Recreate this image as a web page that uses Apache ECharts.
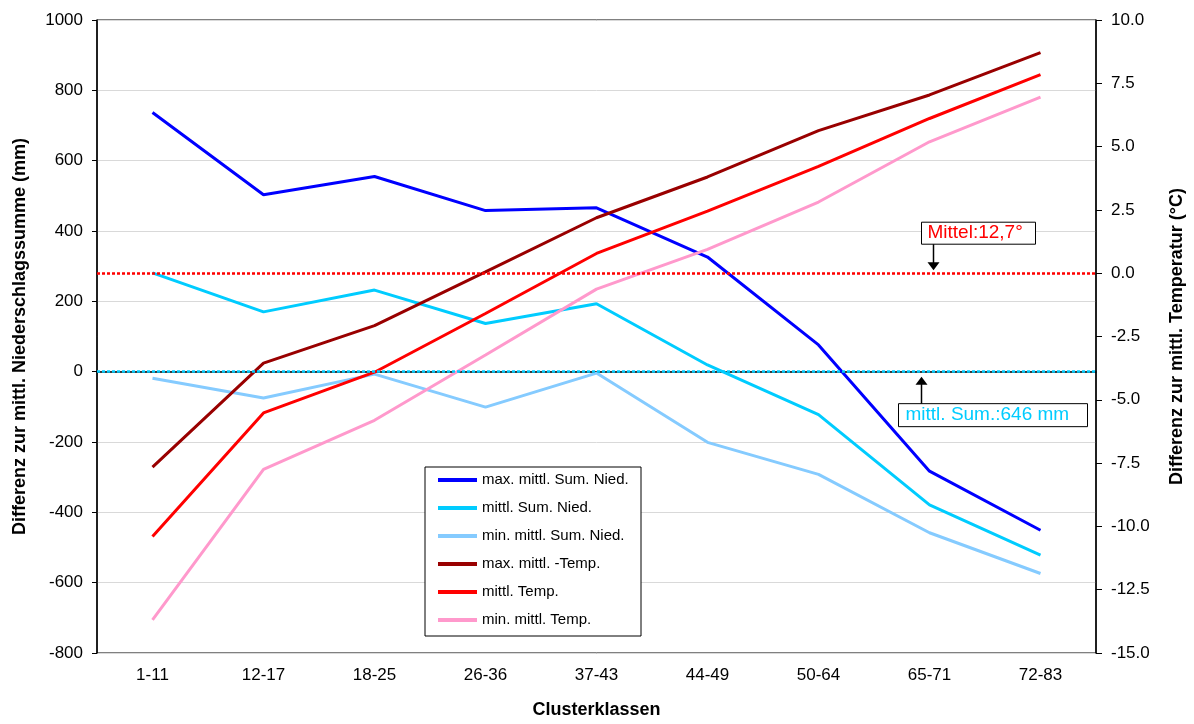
<!DOCTYPE html>
<html><head><meta charset="utf-8">
<script src="https://cdn.jsdelivr.net/npm/echarts@6/dist/echarts.min.js"></script>
<style>html,body{margin:0;padding:0;background:#fff}#c{width:1194px;height:724px}</style>
</head><body><div id="c"></div>
<script>
const categories = ['1-11','12-17','18-25','26-36','37-43','44-49','50-64','65-71','72-83'];
const maxNied   = [737, 503, 555, 458, 466, 326, 76, -283, -451];
const mittlNied = [281, 170, 232, 137, 193, 19, -122, -379, -522];
const minNied   = [-19, -75, -7, -101, -4, -201, -292, -458, -574];
const maxTemp   = [-7.66, -3.55, -2.07, 0.05, 2.19, 3.80, 5.63, 7.04, 8.71];
const mittlTemp = [-10.4, -5.52, -3.91, -1.59, 0.78, 2.45, 4.22, 6.11, 7.84];
const minTemp   = [-13.69, -7.75, -5.81, -3.23, -0.63, 0.94, 2.81, 5.19, 6.95];
const niedMeanLabel = 'mittl. Sum.:646 mm';
const tempMeanLabel = 'Mittel:12,7°';

const FONT = '"Liberation Sans", Arial, sans-serif';
const chart = echarts.init(document.getElementById('c'), null, {renderer:'canvas'});

function line(name, data, color, axis, extra) {
  return Object.assign({
    name, type:'line', data, yAxisIndex: axis, symbol:'none', showSymbol:false,
    lineStyle:{color, width:3}, itemStyle:{color}, animation:false, z:2
  }, extra || {});
}

const option = {
  animation:false,
  backgroundColor:'#fff',
  grid:{left:97, right:97, top:20, bottom:68, show:true, borderColor:'#000', borderWidth:1, backgroundColor:'transparent'},
  legend:{
    orient:'vertical', left:438, top:472.5, padding:0, icon:'rect', itemWidth:39, itemHeight:4, itemGap:13, z:10,
    textStyle:{fontFamily:FONT, fontSize:15, color:'#000'},
    data:['max. mittl. Sum. Nied.','mittl. Sum. Nied.','min. mittl. Sum. Nied.','max. mittl. -Temp.','mittl. Temp.','min. mittl. Temp.']
  },
  xAxis:{
    type:'category', data:categories, boundaryGap:true,
    axisLine:{lineStyle:{color:'#000', width:1.5}},
    axisTick:{length:6, lineStyle:{color:'#000'}},
    axisLabel:{color:'#000', fontSize:17, margin:14, fontFamily:FONT},
    name:'Clusterklassen', nameLocation:'middle', nameGap:48,
    nameTextStyle:{color:'#000', fontSize:18, fontWeight:'bold', fontFamily:FONT}
  },
  yAxis:[{
    type:'value', min:-800, max:1000, interval:200, position:'left',
    axisLine:{show:true, lineStyle:{color:'#000', width:1.5}},
    axisTick:{show:true, length:5, lineStyle:{color:'#000'}},
    axisLabel:{color:'#000', fontSize:17, margin:14, fontFamily:FONT, formatter:v=>String(v)},
    splitLine:{show:true, lineStyle:{color:'#d9d9d9', width:1}},
    name:'Differenz zur mittl. Niederschlagssumme (mm)', nameLocation:'middle', nameGap:68, nameRotate:90,
    nameTextStyle:{color:'#000', fontSize:18, fontWeight:'bold', fontFamily:FONT}
  },{
    type:'value', min:-15, max:10, interval:2.5, position:'right',
    axisLine:{show:true, lineStyle:{color:'#000', width:1.5}},
    axisTick:{show:true, length:6, lineStyle:{color:'#000'}},
    axisLabel:{color:'#000', fontSize:17, margin:15, fontFamily:FONT, formatter:v=>v.toFixed(1)},
    splitLine:{show:false},
    name:'Differenz zur mittl. Temperatur (°C)', nameLocation:'middle', nameGap:72, nameRotate:90,
    nameTextStyle:{color:'#000', fontSize:18, fontWeight:'bold', fontFamily:FONT}
  }],
  series:[
    line('max. mittl. Sum. Nied.', maxNied, '#0000ff', 0),
    line('mittl. Sum. Nied.', mittlNied, '#00ccff', 0, {
      markLine:{silent:true, symbol:'none', label:{show:false}, animation:false,
        lineStyle:{color:'#00ccff', type:[3,2], width:2.5}, data:[{yAxis:0}]}
    }),
    line('min. mittl. Sum. Nied.', minNied, '#85cbff', 0),
    line('max. mittl. -Temp.', maxTemp, '#990000', 1),
    line('mittl. Temp.', mittlTemp, '#ff0000', 1, {
      markLine:{silent:true, symbol:'none', label:{show:false}, animation:false,
        lineStyle:{color:'#ff0000', type:[3,2], width:2.5}, data:[{yAxis:0}]}
    }),
    line('min. mittl. Temp.', minTemp, '#ff99cc', 1)
  ]
};
chart.setOption(option);

const yT0 = chart.convertToPixel({yAxisIndex:1}, 0);
const yP0 = chart.convertToPixel({yAxisIndex:0}, 0);
const xC = chart.convertToPixel({xAxisIndex:0}, categories[7]);
const ax1 = xC + 4, ax2 = xC - 8;

chart.setOption({graphic:[
  {type:'rect', z:3, shape:{x:425, y:467, width:216, height:169}, style:{fill:'#fff', stroke:'#000', lineWidth:1}},
  // temperature mean annotation
  {type:'rect', z:20, shape:{x:xC-8, y:yT0-51, width:114, height:22}, style:{fill:'#fff', stroke:'#000', lineWidth:1}},
  {type:'text', z:21, style:{text:tempMeanLabel, x:xC-2, y:yT0-40, fill:'#ff0000', font:'19px '+FONT, verticalAlign:'middle'}},
  {type:'line', z:20, shape:{x1:ax1, y1:yT0-29, x2:ax1, y2:yT0-10}, style:{stroke:'#000', lineWidth:1.5}},
  {type:'polygon', z:20, shape:{points:[[ax1-6,yT0-11],[ax1+6,yT0-11],[ax1,yT0-3]]}, style:{fill:'#000'}},
  // precipitation mean annotation
  {type:'rect', z:20, shape:{x:xC-31, y:yP0+32, width:189, height:23}, style:{fill:'#fff', stroke:'#000', lineWidth:1}},
  {type:'text', z:21, style:{text:niedMeanLabel, x:xC-24, y:yP0+43.5, fill:'#00ccff', font:'19px '+FONT, verticalAlign:'middle'}},
  {type:'line', z:20, shape:{x1:ax2, y1:yP0+32, x2:ax2, y2:yP0+12}, style:{stroke:'#000', lineWidth:1.5}},
  {type:'polygon', z:20, shape:{points:[[ax2-6,yP0+13],[ax2+6,yP0+13],[ax2,yP0+5]]}, style:{fill:'#000'}}
]});
</script>
</body></html>
